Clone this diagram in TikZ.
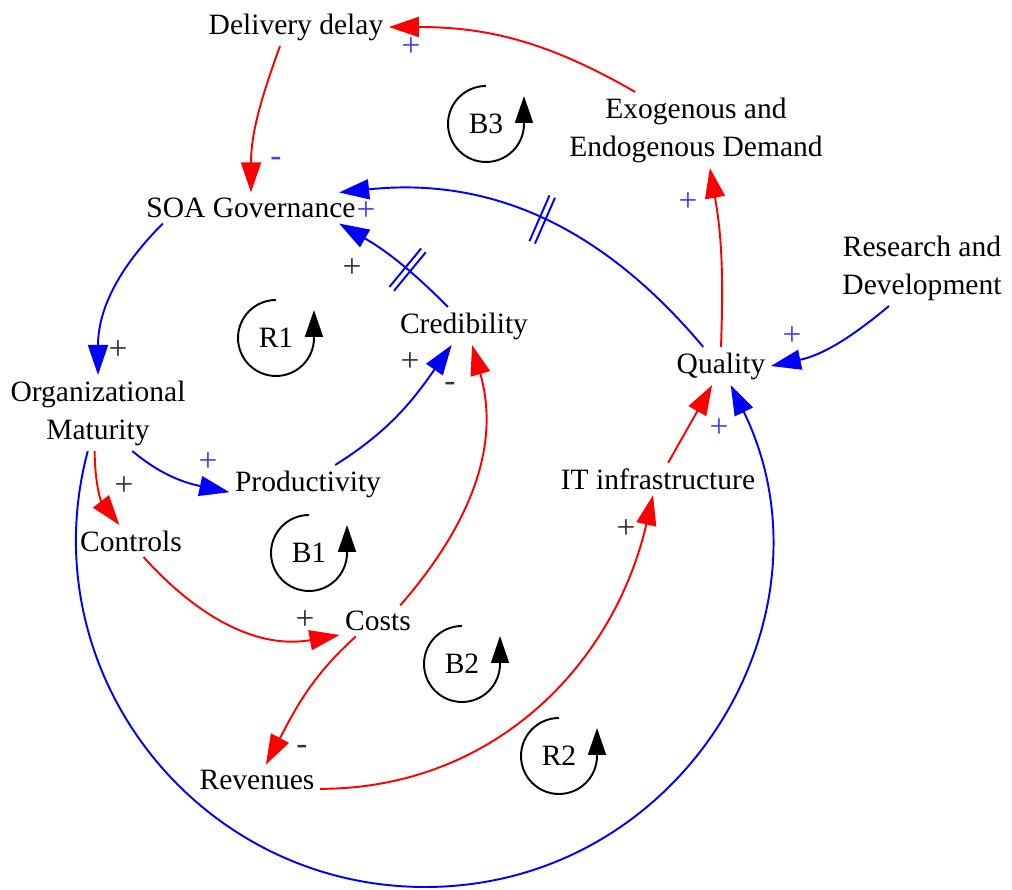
\documentclass[tikz,border=0pt]{standalone}
\usepackage{fontspec}
\setmainfont{Liberation Serif}
\usetikzlibrary{arrows.meta,decorations.markings}
\definecolor{signblue}{RGB}{64,64,255}
\tikzset{
  link/.style={line width=1.1pt,-{Triangle[length=0.6cm,width=0.4cm]}},
  redlink/.style={link,red},
  bluelink/.style={link,blue},
  delaymark/.style={postaction={decorate},decoration={markings,mark=at position #1 with {\draw[-,line width=1.1pt] (-0.06cm,-0.5cm) -- (-0.06cm,0.5cm) (0.06cm,-0.5cm) -- (0.06cm,0.5cm);}}},
  loopmark/.style={line width=1.1pt,-{Triangle[length=0.54cm,width=0.36cm]}},
  signb/.style={text=signblue,font=\fontsize{19}{23}\selectfont},
  signk/.style={text=black!80,font=\fontsize{19}{23}\selectfont}
}
\begin{document}
\begin{tikzpicture}[x=0.02cm,y=0.02cm,font=\fontsize{16.8}{21.6}\selectfont,inner sep=3pt]
\useasboundingbox (0,0) rectangle (1012,890);
\node (dd) at (296,863) {Delivery delay};
\node (soa) at (251,682) {SOA Governance};
\node[align=center] (demand) at (696,760) {Exogenous and\\Endogenous Demand};
\node[align=center] (rd) at (922,622) {Research and\\Development};
\node[align=center] (om) at (98,477) {Organizational\\Maturity};
\node (cred) at (464,564) {Credibility};
\node (qual) at (721,524) {Quality};
\node (prod) at (308,406) {Productivity};
\node (it) at (658,411) {IT infrastructure};
\node (ctrl) at (131,349) {Controls};
\node (costs) at (378,269) {Costs};
\node (rev) at (257,110) {Revenues};
\coordinate (bot) at (425,3);
\draw[redlink] (demand.148) to[out=150,in=0] (dd.east);
\draw[redlink] (dd.230) to[out=250,in=90] (soa.north);
\draw[bluelink,delaymark=0.5] (qual.133) to[out=130,in=6] (soa.10);
\draw[bluelink,delaymark=0.4] (cred.130) to[out=135,in=-30] (soa.-10);
\draw[bluelink] (soa.190) to[out=225,in=90] (om.north);
\draw[bluelink] (om.312) to[out=-40,in=168] (prod.186);
\draw[redlink] (om.265) to[out=270,in=128] (ctrl.126);
\draw[bluelink] (om.255) to[out=255,in=180,looseness=1.06] (bot) to[out=0,in=296,looseness=1.12] (qual.297);
\draw[redlink] (qual.north) to[out=88,in=-80] (demand.290);
\draw[bluelink] (rd.229) to[out=220,in=12] (qual.east);
\draw[redlink] (it.58) -- (qual.245);
\draw[redlink] (rev.352) to[out=0,in=257] (it.253);
\draw[redlink] (costs.215) to[out=222,in=62] (rev.60);
\draw[redlink] (ctrl.308) to[out=-48,in=190] (costs.200);
\draw[redlink] (costs.35) to[out=49,in=286] (cred.293);
\draw[bluelink] (prod.35) to[out=32,in=235] (cred.237);
\node (b3) at (486,766) {B3};
\draw[loopmark] (b3.center) ++(0,38) arc[start angle=90,end angle=360,radius=0.76cm] -- ++(0,28);
\node (r1) at (276,552) {R1};
\draw[loopmark] (r1.center) ++(0,38) arc[start angle=90,end angle=360,radius=0.76cm] -- ++(0,28);
\node (b1) at (309,337) {B1};
\draw[loopmark] (b1.center) ++(0,38) arc[start angle=90,end angle=360,radius=0.76cm] -- ++(0,28);
\node (b2) at (462,226) {B2};
\draw[loopmark] (b2.center) ++(0,38) arc[start angle=90,end angle=360,radius=0.76cm] -- ++(0,28);
\node (r2) at (559,134) {R2};
\draw[loopmark] (r2.center) ++(0,38) arc[start angle=90,end angle=360,radius=0.76cm] -- ++(0,28);
\node[signb] (p1) at (411,843) {+};
\node[signb] (p2) at (276,728) {-};
\node[signb] (p3) at (366,679) {+};
\node[signk] (p4) at (352,622) {+};
\node[signk] (p5) at (118,540) {+};
\node[signb] (p6) at (688,688) {+};
\node[signb] (p7) at (792,554) {+};
\node[signk] (p8) at (410,528) {+};
\node[signk] (p9) at (450,503) {-};
\node[signb] (p10) at (208,428) {+};
\node[signk] (p11) at (124,404) {+};
\node[signb] (p12) at (719,462) {+};
\node[signk] (p13) at (626,361) {+};
\node[signk] (p14) at (305,270) {+};
\node[signk] (p15) at (302,140) {-};
\end{tikzpicture}
\end{document}
